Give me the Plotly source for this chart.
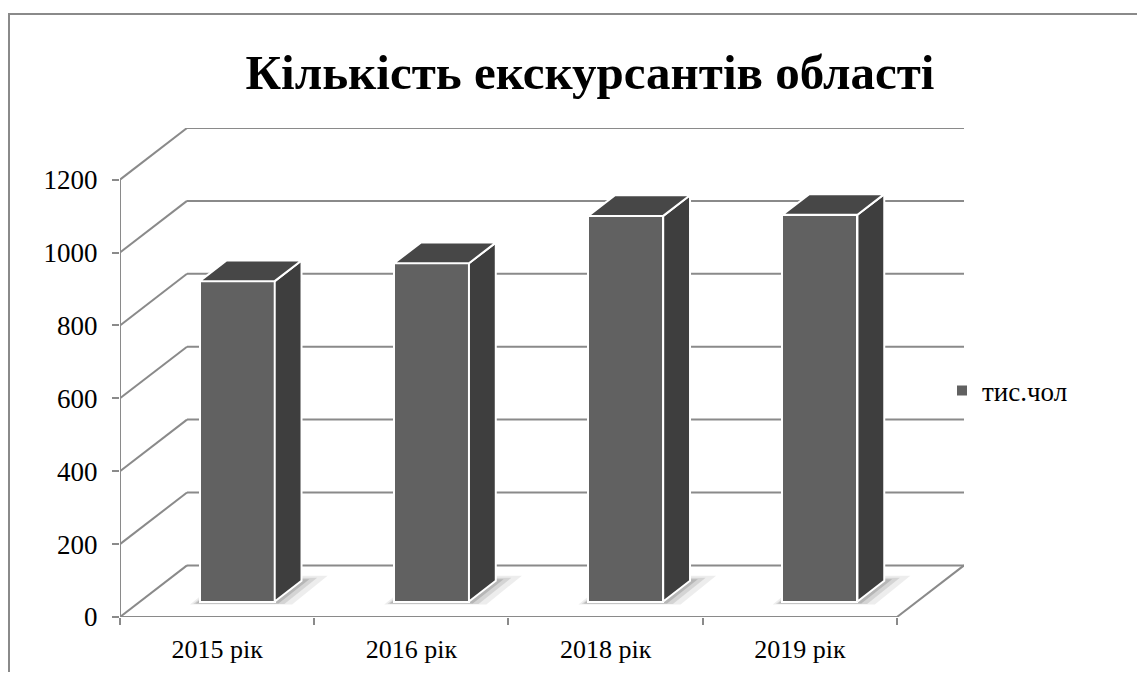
import plotly.graph_objects as go

# ---- data ----
categories = ["2015 рік", "2016 рік", "2018 рік", "2019 рік"]
values = [879, 928, 1058, 1061]
series_name = "тис.чол"
y_ticks = [0, 200, 400, 600, 800, 1000, 1200]
title_text = "Кількість екскурсантів області"

# ---- 3D projection style constants ----
DXC = 0.345      # depth offset in category units
DY = 141.6       # depth offset in value units
BW = 0.386       # bar width (category units)
D0, D1 = 0.30, 0.70   # bar depth span (fraction of full depth)
YMAX = max(y_ticks)

FRONT = "#616161"
SIDE = "#3e3e3e"
TOP = "#474747"
GRID = "#8a8a8a"
FONT = "Liberation Serif"

OFF = 8  # page body margin
fig = go.Figure()

shapes = []

def line(x0, y0, x1, y1, w=2):
    shapes.append(dict(type="line", xref="x", yref="y", x0=x0, y0=y0, x1=x1, y1=y1,
                       line=dict(color=GRID, width=w), layer="below"))

n = len(categories)
# walls / gridlines
for t in y_ticks:
    line(0, t, DXC, t + DY)
    line(DXC, t + DY, n + DXC, t + DY)
line(0, 0, 0, YMAX)
line(0, 0, n, 0)
line(n, 0, n + DXC, DY)

# soft shadows on floor
for i, v in enumerate(values):
    cx = i + 0.5
    for grow, op in [(0.10, 0.07), (0.06, 0.10), (0.03, 0.14)]:
        xa = cx - BW / 2 - grow * 0.4
        xb = cx + BW / 2 + grow
        da, db = D0 - 0.03, D1 + grow
        px = [xa + da * DXC, xb + da * DXC, xb + db * DXC, xa + db * DXC]
        py = [da * DY - grow * 40, da * DY - grow * 40, db * DY, db * DY]
        path = "M {} {} L {} {} L {} {} L {} {} Z".format(px[0], py[0], px[1], py[1], px[2], py[2], px[3], py[3])
        shapes.append(dict(type="path", xref="x", yref="y", path=path,
                           fillcolor="rgba(0,0,0,%s)" % op, line=dict(width=0), layer="below"))

# front faces as real bars
fig.add_trace(go.Bar(
    x=[i + 0.5 + D0 * DXC for i in range(n)],
    y=values,
    base=[D0 * DY] * n,
    width=BW,
    name=series_name,
    marker=dict(color=FRONT, line=dict(color="white", width=2)),
    showlegend=True,
    hoverinfo="skip",
))

# top and side faces
for i, v in enumerate(values):
    cx = i + 0.5
    x0f = cx - BW / 2 + D0 * DXC
    x1f = cx + BW / 2 + D0 * DXC
    x0b = cx - BW / 2 + D1 * DXC
    x1b = cx + BW / 2 + D1 * DXC
    y0f = D0 * DY
    y1f = D0 * DY + v
    y0b = D1 * DY
    y1b = D1 * DY + v
    fig.add_trace(go.Scatter(
        x=[x1f, x1b, x1b, x1f, x1f], y=[y0f, y0b, y1b, y1f, y0f],
        mode="lines", fill="toself", fillcolor=SIDE,
        line=dict(color="white", width=2), showlegend=False, hoverinfo="skip"))
    fig.add_trace(go.Scatter(
        x=[x0f, x1f, x1b, x0b, x0f], y=[y1f, y1f, y1b, y1b, y1f],
        mode="lines", fill="toself", fillcolor=TOP,
        line=dict(color="white", width=2), showlegend=False, hoverinfo="skip"))

# layout in screen pixels (minus page offset)
L, T = 120 - OFF, 128 - OFF
pw, ph = 844, 489
W, H = 1145 - OFF, 680 - 2 * OFF
R = W - L - pw
B = H - T - ph

def px_x(sx):
    return (sx - OFF - L) / pw

def px_y(sy):
    return (T + ph - (sy - OFF)) / ph

shapes.append(dict(type="rect", xref="paper", yref="paper",
                   x0=px_x(9), x1=px_x(1170),
                   y0=px_y(720), y1=px_y(14),
                   line=dict(color=GRID, width=2), layer="below"))

fig.update_layout(
    width=W, height=H,
    margin=dict(l=L, r=R, t=T, b=B, autoexpand=False),
    paper_bgcolor="white", plot_bgcolor="rgba(0,0,0,0)",
    shapes=shapes,
    title=dict(text="<b>%s</b>" % title_text, x=(590 - OFF) / W, xanchor="center",
               y=1 - (72 - OFF) / H, yanchor="middle",
               font=dict(family=FONT, size=49, color="black")),
    font=dict(family=FONT, color="black"),
    xaxis=dict(range=[0, n + DXC], showgrid=False, zeroline=False, showline=False,
               tickvals=[i + 0.5 for i in range(n)], ticktext=categories, ticks="",
               tickfont=dict(family=FONT, size=26, color="black"),
               ticklabelstandoff=14,
               minor=dict(tickvals=list(range(n + 1)), ticks="outside", ticklen=7,
                          tickcolor=GRID, tickwidth=2, showgrid=False),
               fixedrange=True),
    yaxis=dict(range=[0, YMAX + DY], showgrid=False, zeroline=False, showline=False,
               tickvals=y_ticks, ticks="outside", ticklen=7, tickcolor=GRID, tickwidth=2,
               tickfont=dict(family=FONT, size=27, color="black"),
               ticklabelstandoff=9, fixedrange=True),
    legend=dict(x=px_x(942), xanchor="left", y=px_y(391), yanchor="middle",
                font=dict(family=FONT, size=27, color="black"), bgcolor="rgba(0,0,0,0)"),
    bargap=0,
)

fig.write_html("out.html")
